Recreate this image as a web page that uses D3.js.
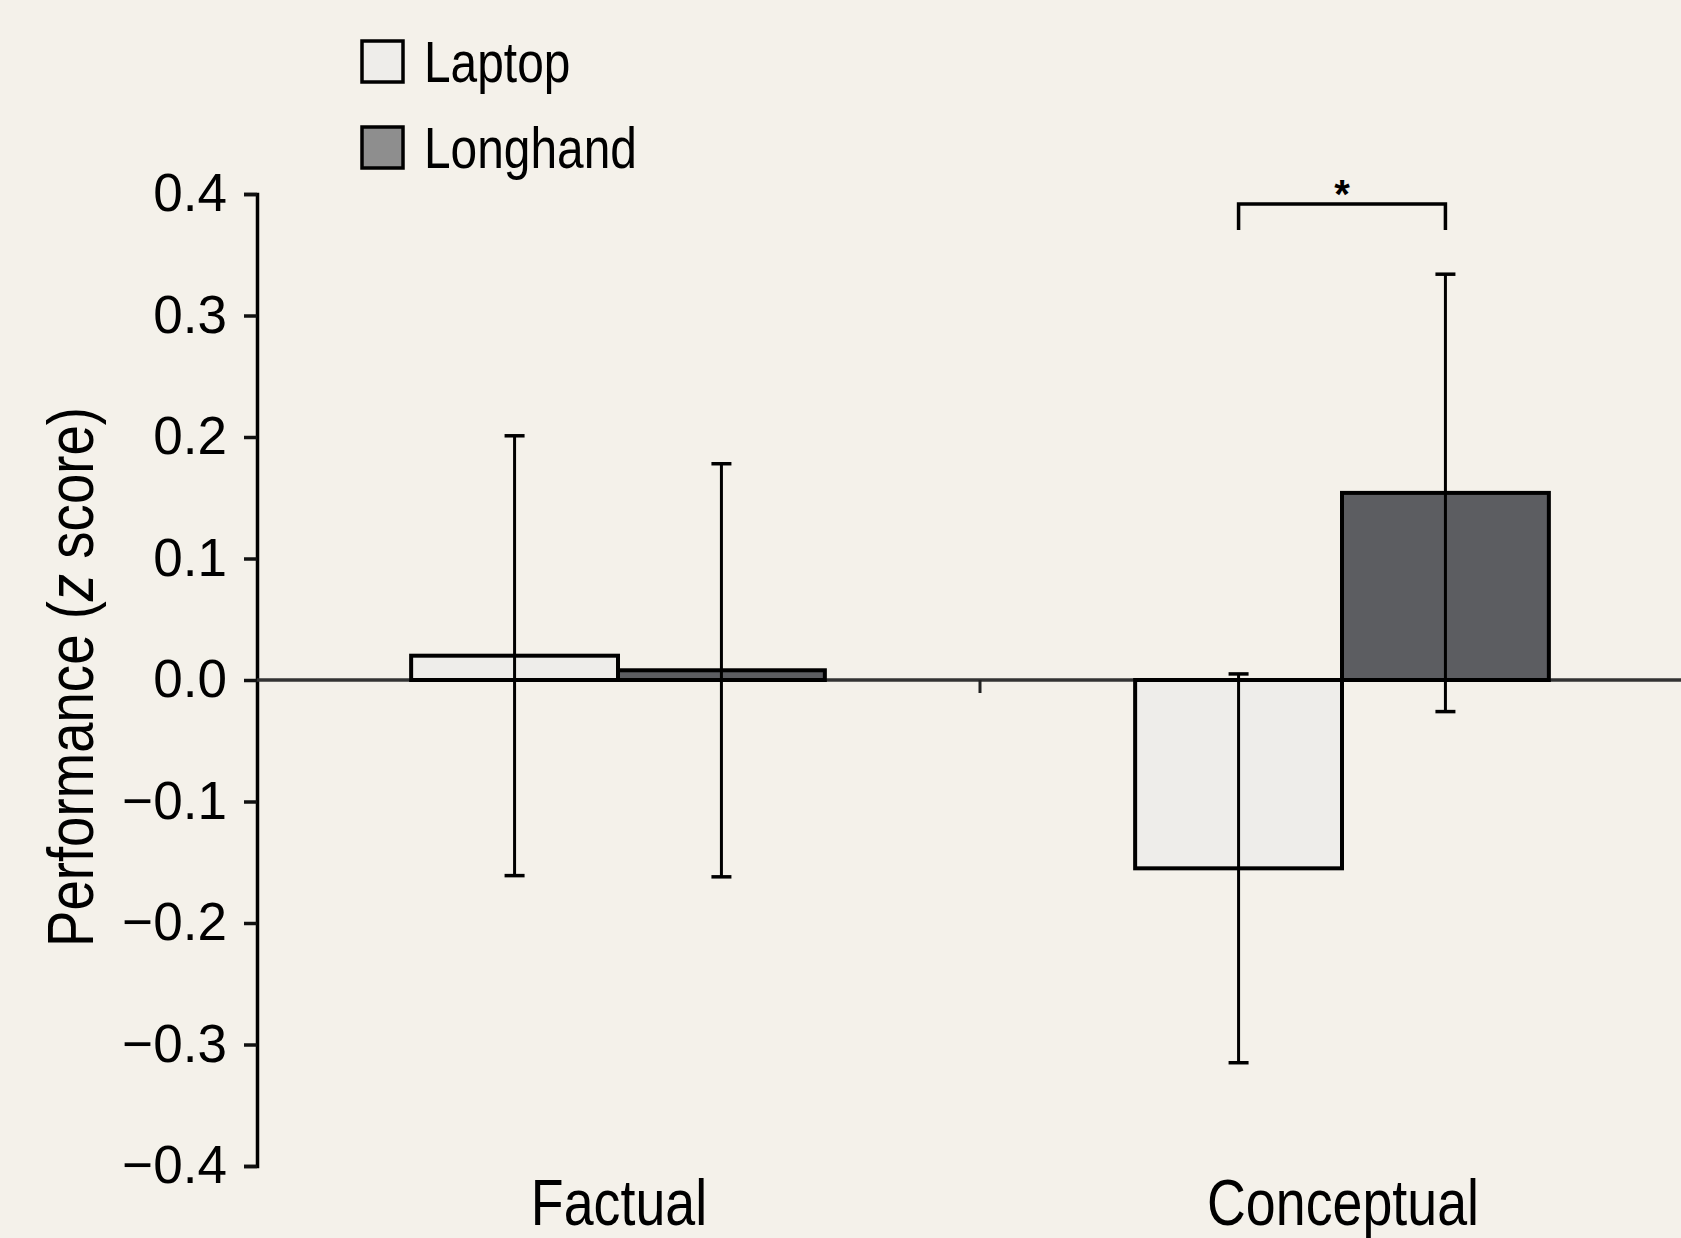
<!DOCTYPE html>
<head>
  <meta charset="utf-8">
  <style>
    body { margin: 0; background: #f4f1ea; }
    svg { display: block; }
    .narrow { font-family: "Liberation Sans", Arial, sans-serif; }
    .tick text { font-family: "Liberation Sans", Arial, sans-serif; font-size: 53px; fill: #000; }
  </style>
  <script src="https://cdn.jsdelivr.net/npm/d3@7"></script>
</head>
<body>
  <script>

    const categories = ['Factual', 'Conceptual'];
    const series = ['Laptop', 'Longhand'];
    const laptop = [0.020, -0.155];
    const longhand = [0.008, 0.154];
    const laptopErr = [0.181, 0.160];
    const longhandErr = [0.170, 0.180];
    const yTicks = [-0.4, -0.3, -0.2, -0.1, 0.0, 0.1, 0.2, 0.3, 0.4];

    const w = 1681, h = 1238;
    const fills = { Laptop: '#eeedea', Longhand: '#5c5d61' };
    const legendFills = { Laptop: '#eeedea', Longhand: '#8e8e8e' };
    const squeeze = 0.84; // no narrow font installed, so squash the regular one

    const svg = d3.select('body').append('svg')
      .attr('width', w)
      .attr('height', h);

    const y = d3.scaleLinear().domain([-0.4, 0.4]).range([1166, 194]);
    const x0 = d3.scaleBand().domain(categories).range([256, 1704]);
    const x1 = d3.scaleBand().domain(series).range([0, x0.bandwidth()]).paddingOuter(0.75);

    const rows = categories.map((c, i) => ({
      cat: c,
      vals: [
        { s: 'Laptop', v: laptop[i], e: laptopErr[i] },
        { s: 'Longhand', v: longhand[i], e: longhandErr[i] }
      ]
    }));

    // y axis
    const yAxis = d3.axisLeft(y)
      .tickValues(yTicks)
      .tickSize(13)
      .tickPadding(17)
      .tickFormat(d3.format('.1f'));

    const ag = svg.append('g')
      .attr('transform', 'translate(257,0)')
      .call(yAxis);
    ag.select('.domain').attr('stroke', '#000').attr('stroke-width', 3.5);
    ag.selectAll('.tick line').attr('stroke', '#111').attr('stroke-width', 3.5);

    // zero line + separator tick
    svg.append('line')
      .attr('x1', 257).attr('x2', w)
      .attr('y1', y(0)).attr('y2', y(0))
      .attr('stroke', '#333').attr('stroke-width', 3.5);
    svg.append('line')
      .attr('x1', x0('Conceptual')).attr('x2', x0('Conceptual'))
      .attr('y1', y(0)).attr('y2', y(0) + 13)
      .attr('stroke', '#222').attr('stroke-width', 3);

    const groups = svg.selectAll('g.grp')
      .data(rows)
      .enter()
      .append('g')
      .attr('class', 'grp')
      .attr('transform', d => `translate(${x0(d.cat)},0)`);

    groups.selectAll('rect')
      .data(d => d.vals)
      .enter()
      .append('rect')
      .attr('x', d => x1(d.s))
      .attr('y', d => y(Math.max(0, d.v)))
      .attr('width', x1.bandwidth())
      .attr('height', d => Math.abs(y(d.v) - y(0)))
      .attr('fill', d => fills[d.s])
      .attr('stroke', '#000')
      .attr('stroke-width', 4);

    // error bars
    const eb = groups.selectAll('g.err')
      .data(d => d.vals)
      .enter()
      .append('g')
      .attr('class', 'err')
      .attr('stroke', '#000')
      .attr('stroke-width', 3);
    const cx = d => x1(d.s) + x1.bandwidth() / 2;
    eb.append('line')
      .attr('x1', cx).attr('x2', cx)
      .attr('y1', d => y(d.v + d.e)).attr('y2', d => y(d.v - d.e));
    eb.append('line')
      .attr('x1', d => cx(d) - 10).attr('x2', d => cx(d) + 10)
      .attr('y1', d => y(d.v + d.e)).attr('y2', d => y(d.v + d.e))
      .attr('stroke-width', 3.5);
    eb.append('line')
      .attr('x1', d => cx(d) - 10).attr('x2', d => cx(d) + 10)
      .attr('y1', d => y(d.v - d.e)).attr('y2', d => y(d.v - d.e))
      .attr('stroke-width', 3.5);

    // significance bracket
    const bx1 = x0('Conceptual') + x1('Laptop') + x1.bandwidth() / 2;
    const bx2 = x0('Conceptual') + x1('Longhand') + x1.bandwidth() / 2;
    svg.append('path')
      .attr('d', `M${bx1},230 V204 H${bx2} V230`)
      .attr('fill', 'none')
      .attr('stroke', '#000')
      .attr('stroke-width', 3.5);
    svg.append('text')
      .attr('x', (bx1 + bx2) / 2)
      .attr('y', 208)
      .attr('text-anchor', 'middle')
      .attr('font-family', 'Liberation Sans, Arial, sans-serif')
      .attr('font-weight', 'bold')
      .attr('font-size', 40)
      .text('*');

    // category labels
    svg.selectAll('text.cat')
      .data(categories)
      .enter()
      .append('text')
      .attr('class', 'cat narrow')
      .attr('transform', d => `translate(${x0(d) + x0.bandwidth() / 2 + 1},1225) scale(${squeeze},1)`)
      .attr('text-anchor', 'middle')
      .attr('font-size', 64)
      .text(d => d);

    // y title
    const yt = svg.append('text')
      .attr('class', 'narrow')
      .attr('transform', `translate(93,677) rotate(-90) scale(${squeeze},1)`)
      .attr('text-anchor', 'middle')
      .attr('font-size', 65);
    yt.append('tspan').text('Performance (');
    yt.append('tspan').attr('font-style', 'italic').text('z');
    yt.append('tspan').text(' score)');

    // legend
    const lg = svg.selectAll('g.leg')
      .data(series)
      .enter()
      .append('g')
      .attr('class', 'leg')
      .attr('transform', (d, i) => `translate(362,${41 + i * 86})`);
    lg.append('rect')
      .attr('width', 41).attr('height', 41)
      .attr('fill', d => legendFills[d])
      .attr('stroke', '#000')
      .attr('stroke-width', 3.5);
    lg.append('text')
      .attr('class', 'narrow')
      .attr('transform', `translate(62,41) scale(${squeeze},1)`)
      .attr('font-size', 57)
      .text(d => d);

  </script>
</body>
